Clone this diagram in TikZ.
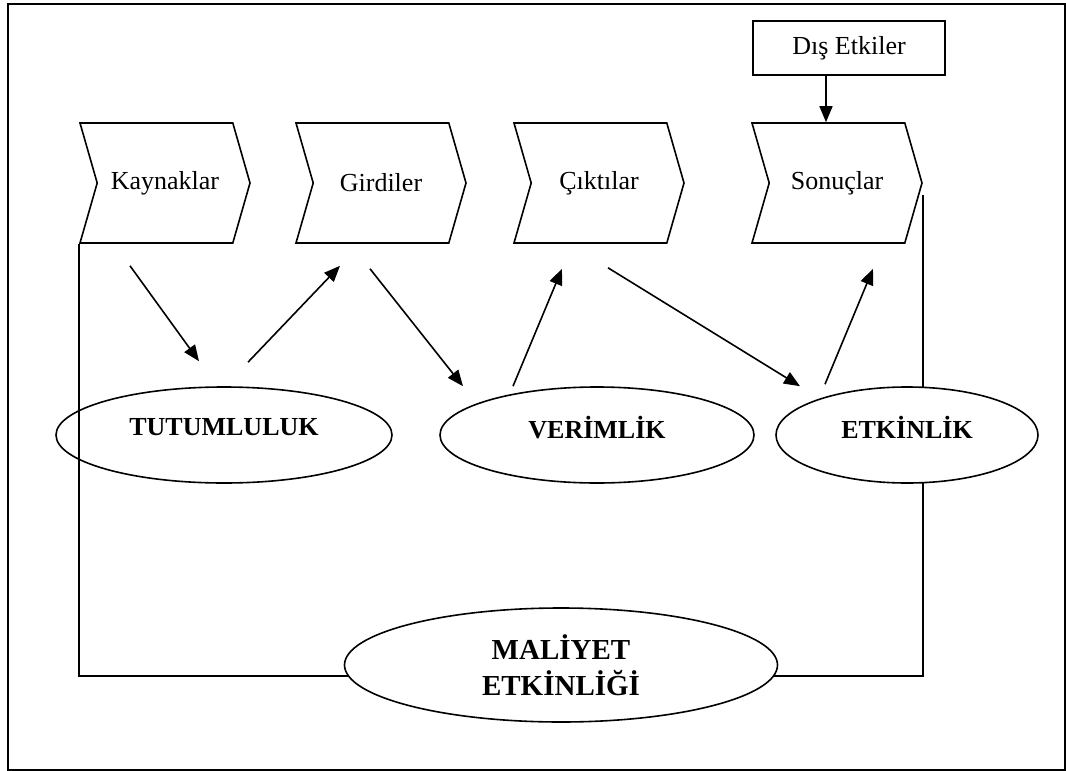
\documentclass[tikz,border=0pt]{standalone}
\usepackage{fontspec}
\setmainfont{Liberation Serif}
\usetikzlibrary{arrows.meta,shapes.geometric,shapes.symbols}
\tikzset{
	chev/.style={signal, signal to=east, signal from=west, signal pointer angle=148, draw, minimum width=170pt, minimum height=120pt, inner sep=0pt, font=\fontsize{26}{30}\selectfont},
	oval/.style={ellipse, draw, fill=white, inner sep=0pt, minimum height=96pt, text depth=16pt, font=\fontsize{26}{30}\selectfont\bfseries},
	dbox/.style={rectangle, draw, minimum width=192pt, minimum height=54pt, font=\fontsize{26}{30}\selectfont}
}
\begin{document}
\begin{tikzpicture}[x=1pt, y=-1pt, >={Triangle[length=16pt,width=13pt]}, line width=1.6pt]
	\useasboundingbox (0,0) rectangle (1066,771);
	\draw[line width=2.5pt] (8,4) rectangle (1065,770);
	% ust sira
	\node[chev] (kaynak) at (165,183) {Kaynaklar};
	\node[chev] (girdi) at (381,183) {Girdiler};
	\node[chev] (cikti) at (599,183) {Çıktılar};
	\node[chev] (sonuc) at (837,183) {Sonuçlar};
	\node[dbox] (dis) at (849,48) {Dış Etkiler};
	\draw[->] ([xshift=-23pt]dis.south) -- ([xshift=-11pt]sonuc.north);
	% alt
	\node[ellipse, draw, fill=white, inner sep=0pt, minimum width=433pt, minimum height=114pt, align=center, font=\fontsize{29}{36}\selectfont\bfseries] (maliyet) at (561,665) {MALİYET\\ETKİNLİĞİ};
	\draw ([yshift=-12pt]sonuc.east) |- (maliyet.-3);
	\node[oval, minimum width=262pt] (etkin) at (907,435) {ETKİNLİK};
	\node[oval, minimum width=336pt] (tutum) at (224,435) {TUTUMLULUK};
	\node[oval, minimum width=314pt] (verim) at (597,435) {VERİMLİK};
	\draw (kaynak.south west) |- (maliyet.183);
	% oklar
	\draw[->] ([xshift=-35pt,yshift=-22pt]kaynak.south) -- ([xshift=-25pt,yshift=25pt]tutum.north);
	\draw[->] ([xshift=24pt,yshift=24pt]tutum.north) -- ([xshift=-41pt,yshift=-22pt]girdi.south);
	\draw[->] ([xshift=-11pt,yshift=-25pt]girdi.south) -- ([xshift=-134pt]verim.north);
	\draw[->] ([xshift=-84pt]verim.north) -- ([xshift=-37pt,yshift=-25pt]cikti.south);
	\draw[->] ([xshift=9pt,yshift=-24pt]cikti.south) -- ([xshift=-107pt]etkin.north);
	\draw[->] ([xshift=-82pt,yshift=2pt]etkin.north) -- ([xshift=36pt,yshift=-25pt]sonuc.south);
\end{tikzpicture}
\end{document}
